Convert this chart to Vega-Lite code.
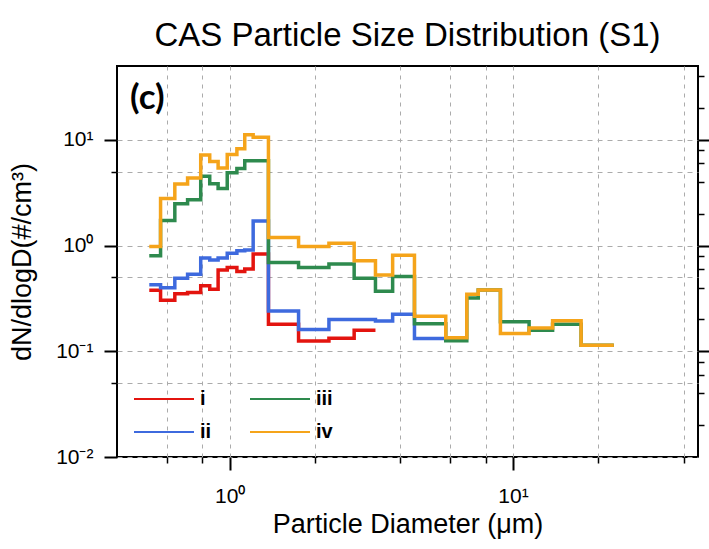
{
  "$schema": "https://vega.github.io/schema/vega-lite/v6.json",
  "autosize": "none",
  "width": 581,
  "height": 391,
  "padding": {"left": 117, "top": 66, "right": 11, "bottom": 92},
  "background": "#ffffff",
  "config": {
    "font": "Liberation Sans",
    "view": {"stroke": "#000000", "strokeWidth": 2},
    "axis": {
      "domain": false,
      "tickColor": "#000000",
      "labelColor": "#000000",
      "titleColor": "#000000",
      "titleFontWeight": "normal",
      "labelFont": "Liberation Sans",
      "titleFont": "Liberation Sans"
    }
  },
  "title": {
    "text": "CAS Particle Size Distribution (S1)",
    "font": "Liberation Sans",
    "fontSize": 33,
    "fontWeight": "normal",
    "color": "#000000",
    "anchor": "middle",
    "offset": 13
  },
  "datasets": {
    "psd": [
      {"s": "i", "d": 0.52, "v": 0.379}, {"s": "i", "d": 0.57, "v": 0.304}, {"s": "i", "d": 0.64, "v": 0.351},
      {"s": "i", "d": 0.71, "v": 0.359}, {"s": "i", "d": 0.79, "v": 0.416}, {"s": "i", "d": 0.85, "v": 0.387},
      {"s": "i", "d": 0.91, "v": 0.587}, {"s": "i", "d": 0.98, "v": 0.621}, {"s": "i", "d": 1.06, "v": 0.569},
      {"s": "i", "d": 1.13, "v": 0.6}, {"s": "i", "d": 1.21, "v": 0.834}, {"s": "i", "d": 1.37, "v": 0.18},
      {"s": "i", "d": 1.75, "v": 0.125}, {"s": "i", "d": 2.24, "v": 0.133}, {"s": "i", "d": 2.75, "v": 0.158},
      {"s": "i", "d": 3.27, "v": 0.158},

      {"s": "ii", "d": 0.52, "v": 0.426}, {"s": "ii", "d": 0.57, "v": 0.4}, {"s": "ii", "d": 0.64, "v": 0.49},
      {"s": "ii", "d": 0.71, "v": 0.537}, {"s": "ii", "d": 0.79, "v": 0.764}, {"s": "ii", "d": 0.85, "v": 0.73},
      {"s": "ii", "d": 0.91, "v": 0.764}, {"s": "ii", "d": 0.98, "v": 0.845}, {"s": "ii", "d": 1.06, "v": 0.896},
      {"s": "ii", "d": 1.13, "v": 0.91}, {"s": "ii", "d": 1.21, "v": 1.71}, {"s": "ii", "d": 1.37, "v": 0.24},
      {"s": "ii", "d": 1.75, "v": 0.161}, {"s": "ii", "d": 2.24, "v": 0.2}, {"s": "ii", "d": 2.75, "v": 0.2},
      {"s": "ii", "d": 3.27, "v": 0.193}, {"s": "ii", "d": 3.76, "v": 0.224}, {"s": "ii", "d": 4.49, "v": 0.132},
      {"s": "ii", "d": 5.79, "v": 0.132},

      {"s": "iii", "d": 0.52, "v": 0.8}, {"s": "iii", "d": 0.57, "v": 1.73}, {"s": "iii", "d": 0.64, "v": 2.49},
      {"s": "iii", "d": 0.71, "v": 2.72}, {"s": "iii", "d": 0.79, "v": 4.54}, {"s": "iii", "d": 0.85, "v": 3.85},
      {"s": "iii", "d": 0.91, "v": 3.47}, {"s": "iii", "d": 0.98, "v": 4.9}, {"s": "iii", "d": 1.06, "v": 5.37},
      {"s": "iii", "d": 1.13, "v": 6.35}, {"s": "iii", "d": 1.21, "v": 6.35}, {"s": "iii", "d": 1.37, "v": 0.69},
      {"s": "iii", "d": 1.75, "v": 0.62}, {"s": "iii", "d": 2.24, "v": 0.67}, {"s": "iii", "d": 2.75, "v": 0.49},
      {"s": "iii", "d": 3.27, "v": 0.37}, {"s": "iii", "d": 3.76, "v": 0.51}, {"s": "iii", "d": 4.49, "v": 0.182},
      {"s": "iii", "d": 5.79, "v": 0.126}, {"s": "iii", "d": 6.87, "v": 0.32}, {"s": "iii", "d": 7.54, "v": 0.38},
      {"s": "iii", "d": 9.03, "v": 0.19}, {"s": "iii", "d": 11.4, "v": 0.158}, {"s": "iii", "d": 13.8, "v": 0.18},
      {"s": "iii", "d": 17.4, "v": 0.114}, {"s": "iii", "d": 22.7, "v": 0.114},

      {"s": "iv", "d": 0.52, "v": 0.98}, {"s": "iv", "d": 0.57, "v": 2.79}, {"s": "iv", "d": 0.64, "v": 3.83},
      {"s": "iv", "d": 0.71, "v": 4.35}, {"s": "iv", "d": 0.79, "v": 7.2}, {"s": "iv", "d": 0.85, "v": 6.24},
      {"s": "iv", "d": 0.91, "v": 5.41}, {"s": "iv", "d": 0.98, "v": 7.28}, {"s": "iv", "d": 1.06, "v": 8.24},
      {"s": "iv", "d": 1.13, "v": 11.2}, {"s": "iv", "d": 1.21, "v": 10.6}, {"s": "iv", "d": 1.37, "v": 1.19},
      {"s": "iv", "d": 1.75, "v": 0.98}, {"s": "iv", "d": 2.24, "v": 1.05}, {"s": "iv", "d": 2.75, "v": 0.72},
      {"s": "iv", "d": 3.27, "v": 0.526}, {"s": "iv", "d": 3.76, "v": 0.81}, {"s": "iv", "d": 4.49, "v": 0.215},
      {"s": "iv", "d": 5.79, "v": 0.134}, {"s": "iv", "d": 6.87, "v": 0.347}, {"s": "iv", "d": 7.54, "v": 0.381},
      {"s": "iv", "d": 9.03, "v": 0.147}, {"s": "iv", "d": 11.4, "v": 0.166}, {"s": "iv", "d": 13.8, "v": 0.195},
      {"s": "iv", "d": 17.4, "v": 0.114}, {"s": "iv", "d": 22.7, "v": 0.114}
    ],
    "panel": [{"tag": "(c)"}]
  },
  "layer": [
    {
      "data": {"name": "psd"},
      "mark": {"type": "line", "interpolate": "step-after", "strokeWidth": 3.5, "strokeJoin": "miter", "clip": true},
      "encoding": {
        "x": {
          "field": "d",
          "type": "quantitative",
          "scale": {"type": "log", "domain": [0.4, 45], "nice": false, "zero": false},
          "axis": {
            "orient": "bottom",
            "values": [0.6, 0.8, 1, 2, 4, 6, 8, 10, 20, 40],
            "labelExpr": "datum.value == 1 ? '10⁰' : datum.value == 10 ? '10¹' : ''",
            "labelFontSize": 21,
            "labelPadding": 15,
            "labelFlush": false,
            "labelOverlap": false,
            "tickSize": {"condition": {"test": "datum.value == 1 || datum.value == 10", "value": 13}, "value": 6},
            "tickWidth": {"condition": {"test": "datum.value == 1 || datum.value == 10", "value": 2}, "value": 1.5},
            "grid": true,
            "gridDash": [4, 5],
            "gridColor": "#ababab",
            "gridWidth": 1,
            "title": "Particle Diameter (μm)",
            "titleFontSize": 27,
            "titlePadding": 5
          }
        },
        "y": {
          "field": "v",
          "type": "quantitative",
          "scale": {"type": "log", "domain": [0.01, 50], "nice": false, "zero": false},
          "axis": {
            "orient": "left",
            "values": [0.01, 0.05, 0.1, 0.5, 1, 5, 10],
            "labelExpr": "datum.value == 10 ? '10¹' : datum.value == 1 ? '10⁰' : datum.value == 0.1 ? '10⁻¹' : datum.value == 0.01 ? '10⁻²' : ''",
            "labelFontSize": 21,
            "labelPadding": 11,
            "labelOverlap": false,
            "labelFlush": false,
            "tickSize": {"condition": {"test": "datum.value == 0.01 || datum.value == 0.1 || datum.value == 1 || datum.value == 10", "value": 13}, "value": 6},
            "tickWidth": {"condition": {"test": "datum.value == 0.01 || datum.value == 0.1 || datum.value == 1 || datum.value == 10", "value": 2}, "value": 1.5},
            "grid": true,
            "gridDash": [5, 5],
            "gridColor": "#ababab",
            "gridWidth": 1,
            "title": "dN/dlogD(#/cm³)",
            "titleFontSize": 27,
            "titlePadding": 19
          }
        },
        "color": {
          "field": "s",
          "type": "nominal",
          "scale": {"domain": ["i", "ii", "iii", "iv"], "range": ["#e3140f", "#3e6ade", "#2e8a4e", "#f5a41a"]},
          "legend": {
            "orient": "none",
            "legendX": 16,
            "legendY": 322,
            "columns": 2,
            "direction": "vertical",
            "title": null,
            "symbolType": "M-1,0H5",
            "symbolSize": 400,
            "symbolStrokeWidth": 2,
            "symbolFillColor": "transparent",
            "labelFontSize": 20,
            "labelFontWeight": "bold",
            "labelFont": "Liberation Sans",
            "labelColor": "#000000",
            "labelOffset": 45,
            "rowPadding": 12,
            "columnPadding": 34
          }
        }
      }
    },
    {
      "data": {"name": "psd"},
      "mark": {"type": "point", "opacity": 0},
      "encoding": {
        "x": {"field": "d", "type": "quantitative", "axis": null},
        "y": {
          "field": "v",
          "type": "quantitative",
          "axis": {
            "orient": "right",
            "values": [0.02, 0.04, 0.06, 0.08, 0.1, 0.2, 0.4, 0.6, 0.8, 1, 2, 4, 6, 8, 10, 20, 40],
            "labels": false,
            "grid": false,
            "title": null,
            "tickSize": {"condition": {"test": "datum.value == 0.1 || datum.value == 1 || datum.value == 10", "value": 11}, "value": 6},
            "tickWidth": {"condition": {"test": "datum.value == 0.1 || datum.value == 1 || datum.value == 10", "value": 2}, "value": 1.5}
          }
        }
      }
    },
    {
      "data": {"name": "panel"},
      "mark": {"type": "text", "font": "Lato", "fontWeight": "bold", "fontSize": 35, "align": "left", "baseline": "middle", "color": "#000000"},
      "encoding": {
        "text": {"field": "tag", "type": "nominal"},
        "x": {"datum": 0.445, "type": "quantitative", "axis": null},
        "y": {"datum": 25, "type": "quantitative", "axis": null}
      }
    }
  ],
  "resolve": {"axis": {"y": "independent", "x": "independent"}}
}
